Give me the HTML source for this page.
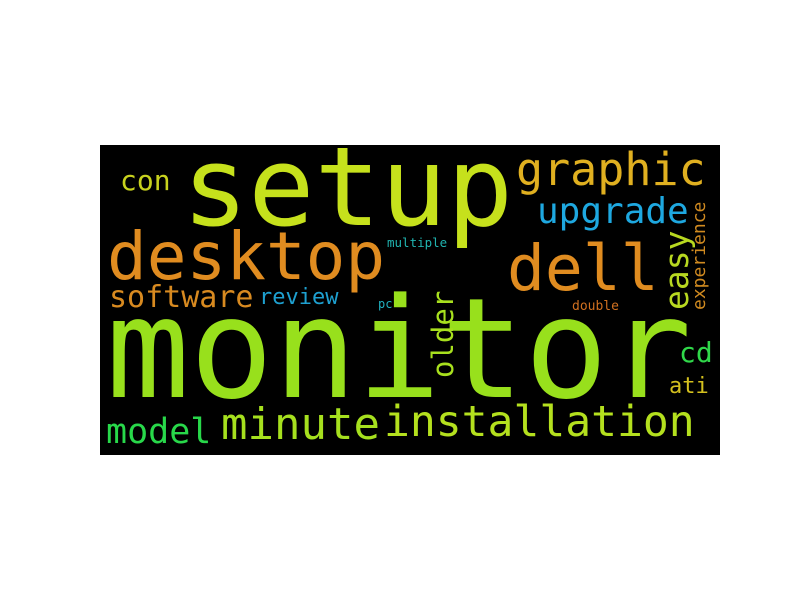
<!DOCTYPE html>
<html><head><meta charset="utf-8"><style>
html,body{margin:0;padding:0;background:#fff;width:800px;height:600px;overflow:hidden}
svg{display:block}
text{font-family:"DejaVu Sans Mono","Liberation Mono",monospace}
</style></head><body>
<svg id="cloud" width="800" height="600">
<rect x="100" y="145" width="620" height="310" fill="#000"/>
</svg>
<script>
const words = ["monitor","setup","desktop","dell","graphic","installation","minute","upgrade","model","software","easy","older","con","cd","review","ati","experience","double","multiple","pc"];
const sizes = [139,110,66,63,45,43,44,36,35,30,33,29,28,28,22,22,18,13,12.5,12];
const xs = [106,182,107,507,516,384,221,537,106,109,688,453,120,679,259,669,705,572,387,378];
const ys = [397,225,279,290,185,436,439,223,443,307,310,378,190,362,304,393,310,310,247,308];
const rot = [0,0,0,0,0,0,0,0,0,0,1,1,0,0,0,0,1,0,0,0];
const colors = ["#98e01c","#c6e11c","#e08c20","#e08c20","#e0b020","#b4e01e","#a6e01e","#1ea8e0","#28d84a","#d88a20","#b8d820","#a8e01e","#c8d21e","#30d84a","#1ea0d0","#d4c01e","#d08a20","#d07020","#20b4b0","#20b0c0"];
const svg = document.getElementById('cloud');
for (let i = 0; i < words.length; i++) {
  const t = document.createElementNS('http://www.w3.org/2000/svg','text');
  
  
  t.setAttribute('font-size', sizes[i]);
  t.setAttribute('fill', colors[i]);
  t.setAttribute('x', xs[i]);
  t.setAttribute('y', ys[i]);
  if (rot[i]) t.setAttribute('transform', 'rotate(-90 ' + xs[i] + ' ' + ys[i] + ')');
  t.textContent = words[i];
  svg.appendChild(t);
}
</script>
</body></html>
